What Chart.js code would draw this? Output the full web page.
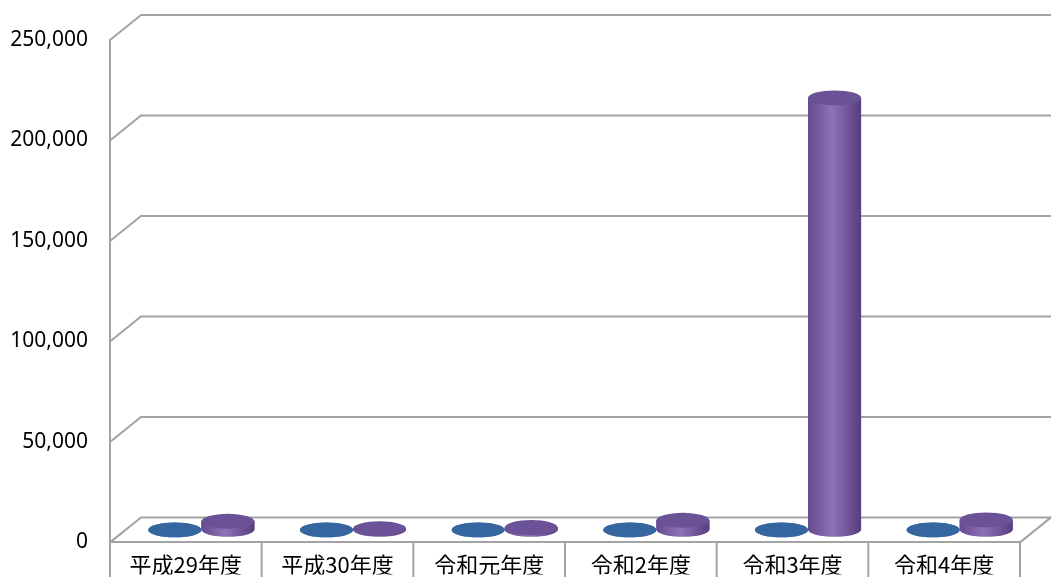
<!DOCTYPE html>
<html lang="ja">
<head>
<meta charset="UTF-8">
<meta name="viewport" content="width=device-width, initial-scale=1.0">
<title>年度別グラフ</title>
<script src="https://cdn.jsdelivr.net/npm/chart.js"></script>
<style>
  html, body { margin: 0; padding: 0; background: #fff; }
  #wrap { width: 1055px; height: 577px; position: relative; }
</style>
</head>
<body>
<div id="wrap"><canvas id="myChart"></canvas></div>
<script>
  // data
  var labels = ['平成29年度', '平成30年度', '令和元年度', '令和2年度', '令和3年度', '令和4年度'];
  var seriesBlue = [0, 0, 0, 0, 0, 0];
  var seriesPurple = [4300, 600, 1200, 4800, 215000, 5000];
  var yTicks = [0, 50000, 100000, 150000, 200000, 250000];

  var lineGray = '#a3a3a3';
  var depth = { dx: 31, dy: -25 }; // offset of the back wall

  // fake 3D: back wall lines, category dividers, cylinder shading
  var wall3d = {
    id: 'wall3d',
    beforeDatasetsDraw: function(chart) {
      var ctx = chart.ctx, a = chart.chartArea, y = chart.scales.y;
      ctx.save();
      ctx.strokeStyle = lineGray;
      ctx.lineWidth = 2;
      yTicks.forEach(function(v) {
        var py = y.getPixelForValue(v);
        ctx.beginPath();
        ctx.moveTo(a.left, py);
        ctx.lineTo(a.left + depth.dx, py + depth.dy);
        ctx.lineTo(a.right + depth.dx, py + depth.dy);
        ctx.stroke();
      });
      var base = y.getPixelForValue(0);
      ctx.beginPath();
      ctx.moveTo(a.right, base);
      ctx.lineTo(a.right + depth.dx, base + depth.dy);
      ctx.stroke();
      // dividers between the category labels
      for (var i = 0; i <= labels.length; i++) {
        var px = a.left + (a.right - a.left) * i / labels.length;
        ctx.beginPath();
        ctx.moveTo(px, a.bottom);
        ctx.lineTo(px, chart.height);
        ctx.stroke();
      }
      ctx.restore();
      // bars sit half way into the depth
      ctx.save();
      ctx.translate(depth.dx / 2, depth.dy / 2);
    },
    afterDatasetsDraw: function(chart) {
      var ctx = chart.ctx;
      chart.data.datasets.forEach(function(ds, di) {
        var meta = chart.getDatasetMeta(di);
        meta.data.forEach(function(bar) {
          var p = bar.getProps(['x', 'y', 'base', 'width'], true);
          var rx = p.width / 2, ry = p.width * 0.14;
          var g = ctx.createLinearGradient(p.x - rx, 0, p.x + rx, 0);
          g.addColorStop(0, ds.shade[0]);
          g.addColorStop(0.45, ds.shade[1]);
          g.addColorStop(1, ds.shade[2]);
          ctx.fillStyle = g;
          ctx.fillRect(p.x - rx, p.y, p.width, p.base - p.y);
          ctx.beginPath();
          ctx.ellipse(p.x, p.base, rx, ry, 0, 0, Math.PI * 2);
          ctx.fill();
          ctx.fillStyle = ds.topColor;
          ctx.beginPath();
          ctx.ellipse(p.x, p.y, rx, ry, 0, 0, Math.PI * 2);
          ctx.fill();
        });
      });
      ctx.restore();
    }
  };

  var ctx = document.getElementById('myChart').getContext('2d');
  var myChart = new Chart(ctx, {
    type: 'bar',
    data: {
      labels: labels,
      datasets: [{
        label: 'A',
        data: seriesBlue,
        backgroundColor: '#3a6aa3',
        shade: ['#2c5a8e', '#4a7fbf', '#274f7e'],
        topColor: '#3566a0',
        barPercentage: 1,
        categoryPercentage: 0.7
      }, {
        label: 'B',
        data: seriesPurple,
        backgroundColor: '#7b5ea7',
        shade: ['#654a90', '#8e72b8', '#573e7e'],
        topColor: '#6b5195',
        barPercentage: 1,
        categoryPercentage: 0.7
      }]
    },
    options: {
      responsive: true,
      maintainAspectRatio: false,
      animation: false,
      layout: { padding: { top: 40, right: 35, left: 0, bottom: 0 } },
      plugins: {
        legend: { display: false },
        tooltip: { enabled: false }
      },
      scales: {
        x: {
          grid: { display: true, drawOnChartArea: false, drawTicks: false },
          border: { display: true, color: lineGray, width: 2 },
          ticks: {
            color: '#000',
            padding: 9,
            maxRotation: 0,
            autoSkip: false,
            font: { family: "'Noto Sans CJK JP'", size: 22 }
          },
          afterFit: function(s) { s.height = 32; }
        },
        y: {
          min: yTicks[0],
          max: yTicks[yTicks.length - 1],
          grid: { display: true, drawOnChartArea: false, drawTicks: false },
          border: { display: true, color: lineGray, width: 2 },
          ticks: {
            stepSize: yTicks[1] - yTicks[0],
            color: '#000',
            padding: 22,
            font: { family: "'Noto Sans'", size: 21 },
            callback: function(v) { return v.toLocaleString('en-US'); }
          },
          afterFit: function(s) { s.width = 110; }
        }
      }
    },
    plugins: [wall3d]
  });
</script>
</body>
</html>
